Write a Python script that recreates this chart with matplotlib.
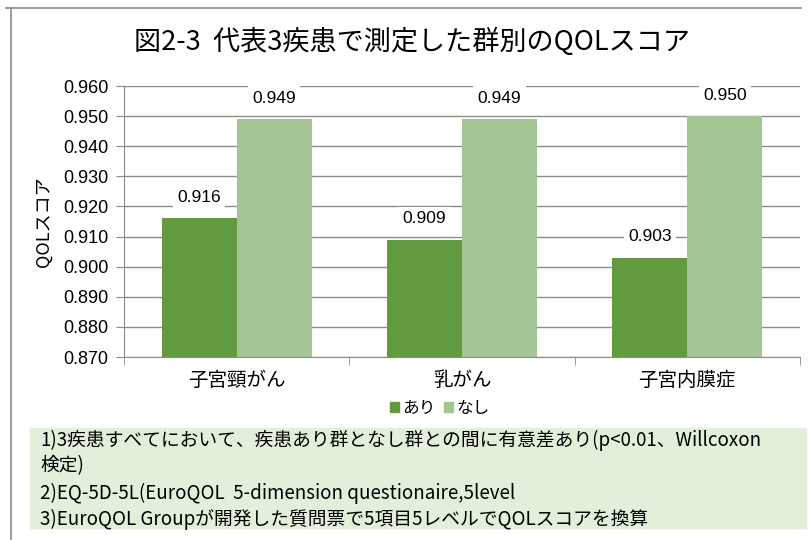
import matplotlib
matplotlib.use("Agg")
import matplotlib.pyplot as plt
from matplotlib.lines import Line2D
from matplotlib.patches import Rectangle
import numpy as np

plt.rcParams['font.family'] = ['Noto Sans CJK JP', 'DejaVu Sans']

# data
categories = ["子宮頸がん", "乳がん", "子宮内膜症"]
series_names = ["あり", "なし"]
ari = [0.916, 0.909, 0.903]
nashi = [0.949, 0.949, 0.950]
yticks = [0.870, 0.880, 0.890, 0.900, 0.910, 0.920, 0.930, 0.940, 0.950, 0.960]
notes = [
    "1)3疾患すべてにおいて、疾患あり群となし群との間に有意差あり(p<0.01、Willcoxon",
    "検定)",
    "2)EQ-5D-5L(EuroQOL  5-dimension questionaire,5level",
    "3)EuroQOL Groupが開発した質問票で5項目5レベルでQOLスコアを換算",
]

DARK = "#629B3D"
LIGHT = "#A3C594"
NOTE_BG = "#E2EFDA"
GRID = "#8C8C8C"

fig = plt.figure(figsize=(8.1, 5.4), dpi=100)
W, H = 810, 540

# outer chart border (left and top only visible)
fig.add_artist(Line2D([11 / W, 11 / W], [0, 1 - 8 / H], color="#8C8C8C", lw=1.2))
fig.add_artist(Line2D([6 / W, 801 / W], [1 - 8 / H, 1 - 8 / H], color="#8C8C8C", lw=1.2))

ax = fig.add_axes([124 / W, 1 - 357 / H, 676 / W, 271 / H])
x = np.arange(len(categories))
bw = 1 / 3
b1 = ax.bar(x - bw / 2, ari, width=bw, color=DARK, zorder=2)
b2 = ax.bar(x + bw / 2, nashi, width=bw, color=LIGHT, zorder=2)

ax.set_ylim(0.870, 0.960)
ax.set_xlim(-0.5, len(categories) - 0.5)
ax.set_yticks(yticks)
ax.set_yticklabels([f"{v:.3f}" for v in yticks], fontsize=13, family="Liberation Sans")
ax.yaxis.grid(True, color=GRID, lw=1.0, zorder=0)
ax.set_axisbelow(True)
ax.tick_params(axis="y", length=6, color=GRID, pad=5)

ax.set_xticks(x)
ax.set_xticklabels(categories, fontsize=14)
ax.tick_params(axis="x", length=0, pad=9)
ax.set_xticks(np.arange(-0.5, len(categories)), minor=True)
ax.tick_params(axis="x", which="minor", length=6, color=GRID)

for sp in ("top", "right"):
    ax.spines[sp].set_visible(False)
ax.spines["left"].set_color(GRID)
ax.spines["bottom"].set_color(GRID)

ax.set_ylabel("QOLスコア", fontsize=13, labelpad=8)

for bars, vals in ((b1, ari), (b2, nashi)):
    for b, v in zip(bars, vals):
        ax.annotate(f"{v:.3f}", (b.get_x() + b.get_width() / 2, v),
                    xytext=(0, 15), textcoords="offset points",
                    ha="center", va="center", fontsize=12.5, family="Liberation Sans",
                    bbox=dict(boxstyle="square,pad=0.25", fc="white", ec="none"),
                    zorder=3)

fig.text(412 / W, 1 - 42 / H, "図2-3  代表3疾患で測定した群別のQOLスコア",
         ha="center", va="center", fontsize=19.5)

# legend
handles = [Rectangle((0, 0), 1, 1, color=DARK), Rectangle((0, 0), 1, 1, color=LIGHT)]
fig.legend(handles, series_names, loc="center", bbox_to_anchor=(440 / W, 1 - 408 / H),
           ncol=2, frameon=False, fontsize=12, handlelength=0.55, handleheight=0.55,
           handletextpad=0.2, columnspacing=0.5)

# footnote box
fig.add_artist(Rectangle((30 / W, 1 - 528 / H), 776 / W, 100 / H,
                         transform=fig.transFigure, color=NOTE_BG, zorder=0))
for i, line in enumerate(notes):
    yp = [440, 466, 493, 519][i]
    fig.text(40 / W, 1 - yp / H, line, ha="left", va="center", fontsize=13.5)

fig.savefig("out.png", dpi=100)
